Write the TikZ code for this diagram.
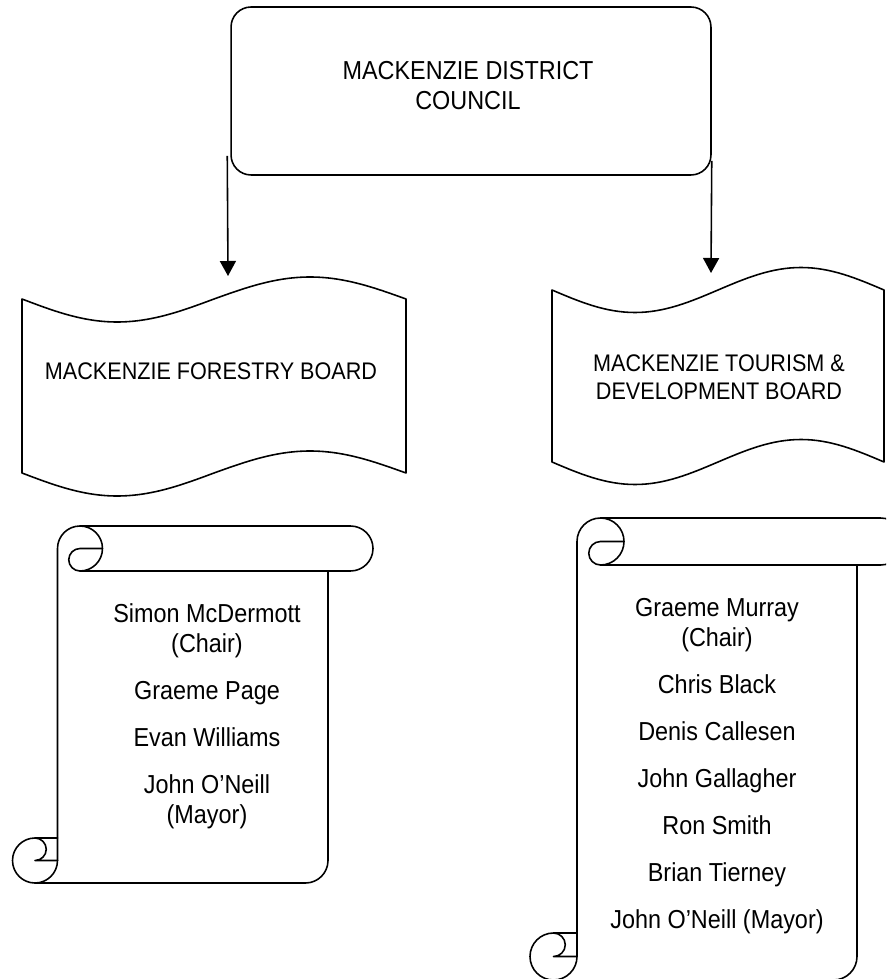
\documentclass[tikz,border=0pt]{standalone}
\usepackage{fontspec}
\setmainfont{Liberation Sans}[FakeStretch=0.9]
\usetikzlibrary{arrows.meta}
\tikzset{
  shapeline/.style={line width=0.9pt, line join=round, line cap=round},
  arr/.style={line width=0.9pt, -{Triangle[width=0.32cm,length=0.3cm]}},
  bigtxt/.style={inner sep=0pt, align=center, font=\fontsize{14.8}{17.07}\selectfont},
  boardtxt/.style={inner sep=0pt, align=center, font=\fontsize{13.66}{15.9}\selectfont},
}
% #1 name, #2 left, #3 top, #4 right, #5 bottom, #6 roll size (pixel units, y downwards)
\newcommand{\drawmyscroll}[6]{%
  \pgfmathsetmacro{\scH}{#6/2}%
  \pgfmathsetmacro{\scQ}{#6/4}%
  \pgfmathsetmacro{\scXa}{#2+#6}%
  \pgfmathsetmacro{\scXb}{#2+#6/2}%
  \pgfmathsetmacro{\scXc}{#2+1.5*#6}%
  \pgfmathsetmacro{\scXd}{#2+2*#6}%
  \pgfmathsetmacro{\scXf}{#4-#6}%
  \pgfmathsetmacro{\scXg}{#4-#6/2}%
  \pgfmathsetmacro{\scXe}{#4-1.5*#6}%
  \pgfmathsetmacro{\scT}{-#3}%
  \pgfmathsetmacro{\scTc}{-#3-#6}%
  \pgfmathsetmacro{\scTh}{-#3-#6/2}%
  \pgfmathsetmacro{\scB}{-#5}%
  \pgfmathsetmacro{\scYd}{-#5+#6/2}%
  \pgfmathsetmacro{\scYc}{-#5+#6}%
  \draw[shapeline, fill=white] (\scXa,\scYc) -- (\scXa,\scTh)
     arc[start angle=180,end angle=90,radius=\scH] -- (\scXg,\scT)
     arc[start angle=90,end angle=-90,radius=\scH] -- (\scXf,\scTc) -- (\scXf,\scYd)
     arc[start angle=0,end angle=-90,radius=\scH] -- (\scXb,\scB)
     arc[start angle=-90,end angle=-270,radius=\scH] -- cycle;
  \draw[shapeline] (\scXc,\scT) arc[start angle=90,end angle=-90,radius=\scH]
     arc[start angle=-90,end angle=-270,radius=\scQ] -- (\scXd,\scTh);
  \draw[shapeline] (\scXf,\scTc) -- (\scXc,\scTc);
  \draw[shapeline] (\scXb,\scYc) arc[start angle=90,end angle=-90,radius=\scQ] -- (\scXa,\scYd);
  \draw[shapeline] (\scXb,\scB) arc[start angle=-90,end angle=0,radius=\scH] -- (\scXa,\scYc);
  \coordinate (#1) at ({(\scXa+\scXf)/2},{(\scTc+\scB)/2});
}
\begin{document}
\begin{tikzpicture}[x=0.02cm,y=0.02cm]
\path[use as bounding box, fill=white] (0,0) rectangle (886,-979);
\clip (0,0) rectangle (886,-979);

% top box
\node[shapeline, draw, fill=white, rounded corners=0.4cm, minimum width=9.6cm, minimum height=3.36cm, inner sep=0pt] (mdc) at (471,-91) {};
\node[bigtxt] (mdct) at (468,-85.7) {MACKENZIE DISTRICT\\COUNCIL};

% boards (wave shapes)
\draw[shapeline, fill=white] (22,-299) sin (117,-322) cos (214,-299) sin (310,-277) cos (406,-299)
  -- (406,-473) sin (310,-451) cos (214,-473) sin (117,-496) cos (22,-473) -- cycle;
\node[boardtxt] (fb) at (211,-371.4) {MACKENZIE FORESTRY BOARD};

\draw[shapeline, fill=white] (552,-290) sin (635,-312.5) cos (718,-290) sin (801,-267.5) cos (884,-290)
  -- (884,-462) sin (801,-439.5) cos (718,-462) sin (635,-484.5) cos (552,-462) -- cycle;
\node[boardtxt] (tdb) at (719,-377.4) {MACKENZIE TOURISM \&\\DEVELOPMENT BOARD};

% arrows
\coordinate (fbin) at (228,-276);
\coordinate (tdbin) at (711,-273);
\draw[arr] ([shift={(-3,20)}]mdc.south west) -- (fbin);
\draw[arr] ([shift={(0,15)}]mdc.south east) -- (tdbin);

% scrolls
\drawmyscroll{fsc}{12.5}{526}{373}{883}{45}
\node[bigtxt] (fnames) at (207,-715.8) {Simon McDermott\\(Chair)\\[0.34cm]Graeme Page\\[0.34cm]Evan Williams\\[0.34cm]John O’Neill\\(Mayor)};

\drawmyscroll{tsc}{530}{518}{904}{980}{47}
\node[bigtxt] (tnames) at (717,-766) {Graeme Murray\\(Chair)\\[0.34cm]Chris Black\\[0.34cm]Denis Callesen\\[0.34cm]John Gallagher\\[0.34cm]Ron Smith\\[0.34cm]Brian Tierney\\[0.34cm]John O’Neill (Mayor)};
\end{tikzpicture}
\end{document}
